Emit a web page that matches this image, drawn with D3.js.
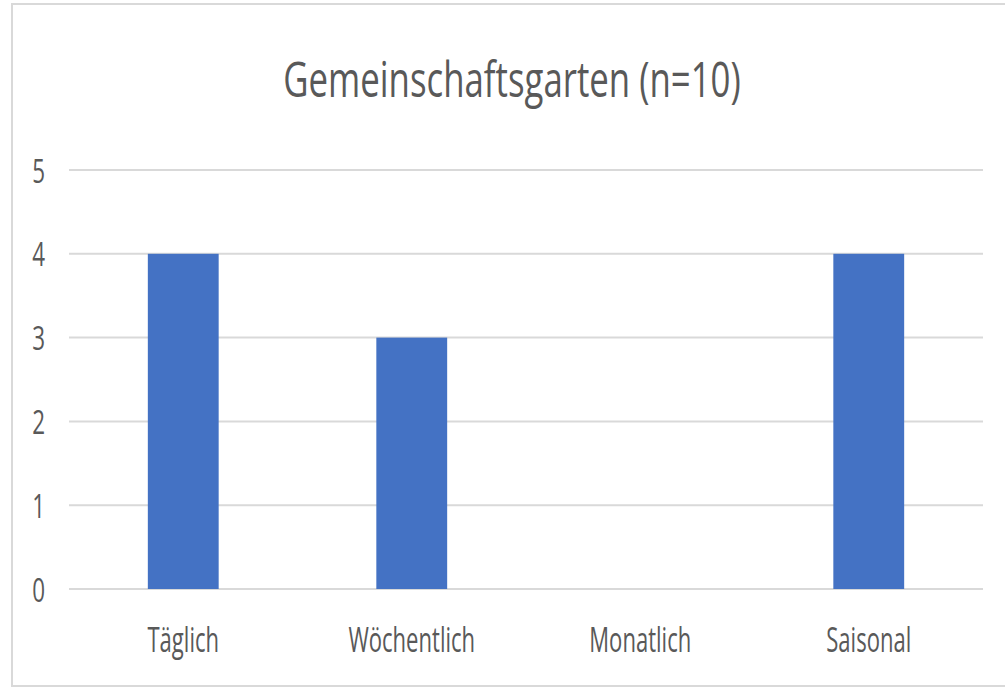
<!DOCTYPE html>
<html>
<head>
<meta charset="utf-8">
<script src="https://cdnjs.cloudflare.com/ajax/libs/d3/7.8.5/d3.min.js"></script>
<style>
  body { margin: 0; background: #fff; }
  text { font-family: "Open Sans", sans-serif; fill: #595959; }
</style>
</head>
<body>
<div id="chart"></div>
<script>
// chart data
var chartTitle = "Gemeinschaftsgarten (n=10)";
var categories = ["Täglich", "Wöchentlich", "Monatlich", "Saisonal"];
var counts = [4, 3, 0, 4];
var yTicks = [0, 1, 2, 3, 4, 5];

var svgWidth = 1005;
var svgHeight = 687;

var margin = {top: 170, right: 22, bottom: 98, left: 69};
var width = svgWidth - margin.left - margin.right;
var height = svgHeight - margin.top - margin.bottom;

var svg = d3.select("#chart")
  .append("svg")
  .attr("width", svgWidth)
  .attr("height", svgHeight);

// chart frame
svg.append("rect")
  .attr("x", 12)
  .attr("y", 4)
  .attr("width", svgWidth)
  .attr("height", svgHeight - 5)
  .attr("fill", "#fff")
  .attr("stroke", "#d9d9d9")
  .attr("stroke-width", 2);

var chartGroup = svg.append("g")
  .attr("transform", `translate(${margin.left}, ${margin.top})`);

var xScale = d3.scaleBand()
  .domain(categories)
  .range([0, width])
  .paddingInner(0.69)
  .paddingOuter(0.345);

var yScale = d3.scaleLinear()
  .domain([0, 5])
  .range([height, 0]);

// squeeze text sideways, the source font is narrow
function squeeze(sel, k) {
  sel.each(function() {
    var len = this.getComputedTextLength();
    d3.select(this)
      .attr("textLength", len * k)
      .attr("lengthAdjust", "spacingAndGlyphs");
  });
}

//gridlines
chartGroup.selectAll(".grid")
  .data(yTicks)
  .enter()
  .append("line")
  .attr("x1", 0)
  .attr("x2", width)
  .attr("y1", d => yScale(d))
  .attr("y2", d => yScale(d))
  .attr("stroke", "#d9d9d9")
  .attr("stroke-width", 2);

//y axis labels
var leftAxis = d3.axisLeft(yScale)
  .tickValues(yTicks)
  .tickFormat(d3.format("d"))
  .tickSize(0)
  .tickPadding(24);
var yAxis = chartGroup.append("g").call(leftAxis);
yAxis.select(".domain").remove();
yAxis.selectAll("text")
  .attr("dy", null)
  .attr("y", 12)
  .style("font-size", "33px")
  .attr("fill", "#595959")
  .attr("text-anchor", "end")
  .call(squeeze, 0.68);

//bars
chartGroup.selectAll(".bar")
  .data(counts)
  .enter()
  .append("rect")
  .attr("x", (d, i) => xScale(categories[i]))
  .attr("y", d => yScale(d))
  .attr("width", xScale.bandwidth())
  .attr("height", d => height - yScale(d))
  .attr("fill", "#4472c4");

//x axis labels
var bottomAxis = d3.axisBottom(xScale).tickSize(0).tickPadding(0);
var xAxis = chartGroup.append("g")
  .attr("transform", `translate(0, ${height})`)
  .call(bottomAxis);
xAxis.select(".domain").remove();
xAxis.selectAll("text")
  .attr("dy", null)
  .attr("y", 63)
  .style("font-size", "35px")
  .attr("fill", "#595959")
  .call(squeeze, 0.63);

//title
svg.append("text")
  .attr("x", 512)
  .attr("y", 97)
  .attr("text-anchor", "middle")
  .style("font-size", "49px")
  .text(chartTitle)
  .call(squeeze, 0.71);
</script>
</body>
</html>
